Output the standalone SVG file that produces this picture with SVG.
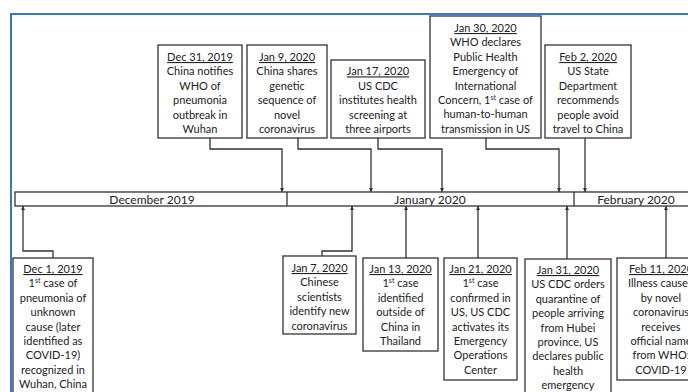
<svg xmlns="http://www.w3.org/2000/svg" width="688" height="392" viewBox="0 0 688 392">
<style>
.box{fill:#fff;stroke:#333;stroke-width:1.3}
.t{font-family:Lato,"Liberation Sans",sans-serif;font-size:11px;fill:#222;text-anchor:middle}
.d{text-decoration:underline}
.m{font-family:Lato,"Liberation Sans",sans-serif;font-size:12px;fill:#222;text-anchor:middle}
.c{fill:none;stroke:#333;stroke-width:1.3}
.sup{font-size:7px}
</style>
<defs>
<marker id="ah" viewBox="0 0 6 6" refX="6" refY="3" markerWidth="4" markerHeight="4" orient="auto" markerUnits="userSpaceOnUse">
<path d="M0,0 L6,3 L0,6 z" fill="#333"/>
</marker>
</defs>
<rect width="688" height="392" fill="#fff"/>
<path d="M11,400 L11,14 L700,14" fill="none" stroke="#4472C4" stroke-width="2"/>

<g id="timeline">
<rect x="15" y="192" width="690" height="14" class="box"/>
<line x1="287" y1="192" x2="287" y2="206" class="c"/>
<line x1="574" y1="192" x2="574" y2="206" class="c"/>
<text x="152" y="203.5" class="m">December 2019</text>
<text x="430" y="203.5" class="m">January 2020</text>
<text x="636" y="203.5" class="m">February 2020</text>
</g>

<g id="connectors">
<path d="M210,138 V149 H282 V192" class="c" marker-end="url(#ah)"/>
<path d="M298,138 V149 H371 V192" class="c" marker-end="url(#ah)"/>
<path d="M378,138 V149 H442 V192" class="c" marker-end="url(#ah)"/>
<path d="M486,138 V149 H559 V192" class="c" marker-end="url(#ah)"/>
<path d="M585,138 V192" class="c" marker-end="url(#ah)"/>
<path d="M53,258 V251 H23 V206" class="c" marker-end="url(#ah)"/>
<path d="M322,256 V251 H352 V206" class="c" marker-end="url(#ah)"/>
<path d="M406,258 V206" class="c" marker-end="url(#ah)"/>
<path d="M478,258 V206" class="c" marker-end="url(#ah)"/>
<path d="M567,259 V206" class="c" marker-end="url(#ah)"/>
<path d="M666,258 V206" class="c" marker-end="url(#ah)"/>
</g>

<g id="dec31">
<rect x="158" y="45" width="84" height="93" class="box"/>
<text class="t" x="200"><tspan x="200" y="61" class="d">Dec 31, 2019</tspan><tspan x="200" y="75.4">China notifies</tspan><tspan x="200" y="89.8">WHO of</tspan><tspan x="200" y="104.2">pneumonia</tspan><tspan x="200" y="118.6">outbreak in</tspan><tspan x="200" y="133">Wuhan</tspan></text>
</g>

<g id="jan9">
<rect x="247" y="45" width="80" height="93" class="box"/>
<text class="t"><tspan x="287" y="61" class="d">Jan 9, 2020</tspan><tspan x="287" y="75.4">China shares</tspan><tspan x="287" y="89.8">genetic</tspan><tspan x="287" y="104.2">sequence of</tspan><tspan x="287" y="118.6">novel</tspan><tspan x="287" y="133">coronavirus</tspan></text>
</g>

<g id="jan17">
<rect x="331" y="60" width="94" height="78" class="box"/>
<text class="t"><tspan x="378" y="75.4" class="d">Jan 17, 2020</tspan><tspan x="378" y="89.8">US CDC</tspan><tspan x="378" y="104.2">institutes health</tspan><tspan x="378" y="118.6">screening at</tspan><tspan x="378" y="133">three airports</tspan></text>
</g>

<g id="jan30">
<rect x="430" y="16" width="111" height="122" class="box"/>
<text class="t"><tspan x="485.5" y="32" class="d">Jan 30, 2020</tspan><tspan x="485.5" y="46.4">WHO declares</tspan><tspan x="485.5" y="60.8">Public Health</tspan><tspan x="485.5" y="75.2">Emergency of</tspan><tspan x="485.5" y="89.6">International</tspan><tspan x="485.5" y="104">Concern, 1<tspan class="sup" dy="-4">st</tspan><tspan dy="4"> case of</tspan></tspan><tspan x="485.5" y="118.4">human-to-human</tspan><tspan x="485.5" y="132.8">transmission in US</tspan></text>
</g>

<g id="feb2">
<rect x="545" y="45" width="86" height="93" class="box"/>
<text class="t"><tspan x="588" y="61" class="d">Feb 2, 2020</tspan><tspan x="588" y="75.4">US State</tspan><tspan x="588" y="89.8">Department</tspan><tspan x="588" y="104.2">recommends</tspan><tspan x="588" y="118.6">people avoid</tspan><tspan x="588" y="133">travel to China</tspan></text>
</g>

<g id="dec1">
<rect x="13" y="258" width="80" height="140" class="box"/>
<text class="t"><tspan x="53" y="273" class="d">Dec 1, 2019</tspan><tspan x="53" y="287.4">1<tspan class="sup" dy="-4">st</tspan><tspan dy="4"> case of</tspan></tspan><tspan x="53" y="301.8">pneumonia of</tspan><tspan x="53" y="316.2">unknown</tspan><tspan x="53" y="330.6">cause (later</tspan><tspan x="53" y="345">identified as</tspan><tspan x="53" y="359.4">COVID-19)</tspan><tspan x="53" y="373.8">recognized in</tspan><tspan x="53" y="388.2">Wuhan, China</tspan></text>
</g>

<g id="jan7">
<rect x="283" y="256" width="73" height="78" class="box"/>
<text class="t"><tspan x="319.5" y="272" class="d">Jan 7, 2020</tspan><tspan x="319.5" y="286.4">Chinese</tspan><tspan x="319.5" y="300.8">scientists</tspan><tspan x="319.5" y="315.2">identify new</tspan><tspan x="319.5" y="329.6">coronavirus</tspan></text>
</g>

<g id="jan13">
<rect x="363" y="258" width="75" height="93" class="box"/>
<text class="t"><tspan x="400.5" y="273" class="d">Jan 13, 2020</tspan><tspan x="400.5" y="287.4">1<tspan class="sup" dy="-4">st</tspan><tspan dy="4"> case</tspan></tspan><tspan x="400.5" y="301.8">identified</tspan><tspan x="400.5" y="316.2">outside of</tspan><tspan x="400.5" y="330.6">China in</tspan><tspan x="400.5" y="345">Thailand</tspan></text>
</g>

<g id="jan21">
<rect x="444" y="258" width="73" height="122" class="box"/>
<text class="t"><tspan x="480.5" y="273" class="d">Jan 21, 2020</tspan><tspan x="480.5" y="287.4">1<tspan class="sup" dy="-4">st</tspan><tspan dy="4"> case</tspan></tspan><tspan x="480.5" y="301.8">confirmed in</tspan><tspan x="480.5" y="316.2">US, US CDC</tspan><tspan x="480.5" y="330.6">activates its</tspan><tspan x="480.5" y="345">Emergency</tspan><tspan x="480.5" y="359.4">Operations</tspan><tspan x="480.5" y="373.8">Center</tspan></text>
</g>

<g id="jan31">
<rect x="525" y="259" width="86" height="140" class="box"/>
<text class="t"><tspan x="568" y="274" class="d">Jan 31, 2020</tspan><tspan x="568" y="288.4">US CDC orders</tspan><tspan x="568" y="302.8">quarantine of</tspan><tspan x="568" y="317.2">people arriving</tspan><tspan x="568" y="331.6">from Hubei</tspan><tspan x="568" y="346">province, US</tspan><tspan x="568" y="360.4">declares public</tspan><tspan x="568" y="374.8">health</tspan><tspan x="568" y="389.2">emergency</tspan></text>
</g>

<g id="feb11">
<rect x="617" y="258" width="86" height="122" class="box"/>
<text class="t"><tspan x="661" y="273" class="d">Feb 11, 2020</tspan><tspan x="661" y="287.4">Illness caused</tspan><tspan x="661" y="301.8">by novel</tspan><tspan x="661" y="316.2">coronavirus</tspan><tspan x="661" y="330.6">receives</tspan><tspan x="661" y="345">official name</tspan><tspan x="661" y="359.4">from WHO:</tspan><tspan x="661" y="373.8">COVID-19</tspan></text>
</g>
</svg>
